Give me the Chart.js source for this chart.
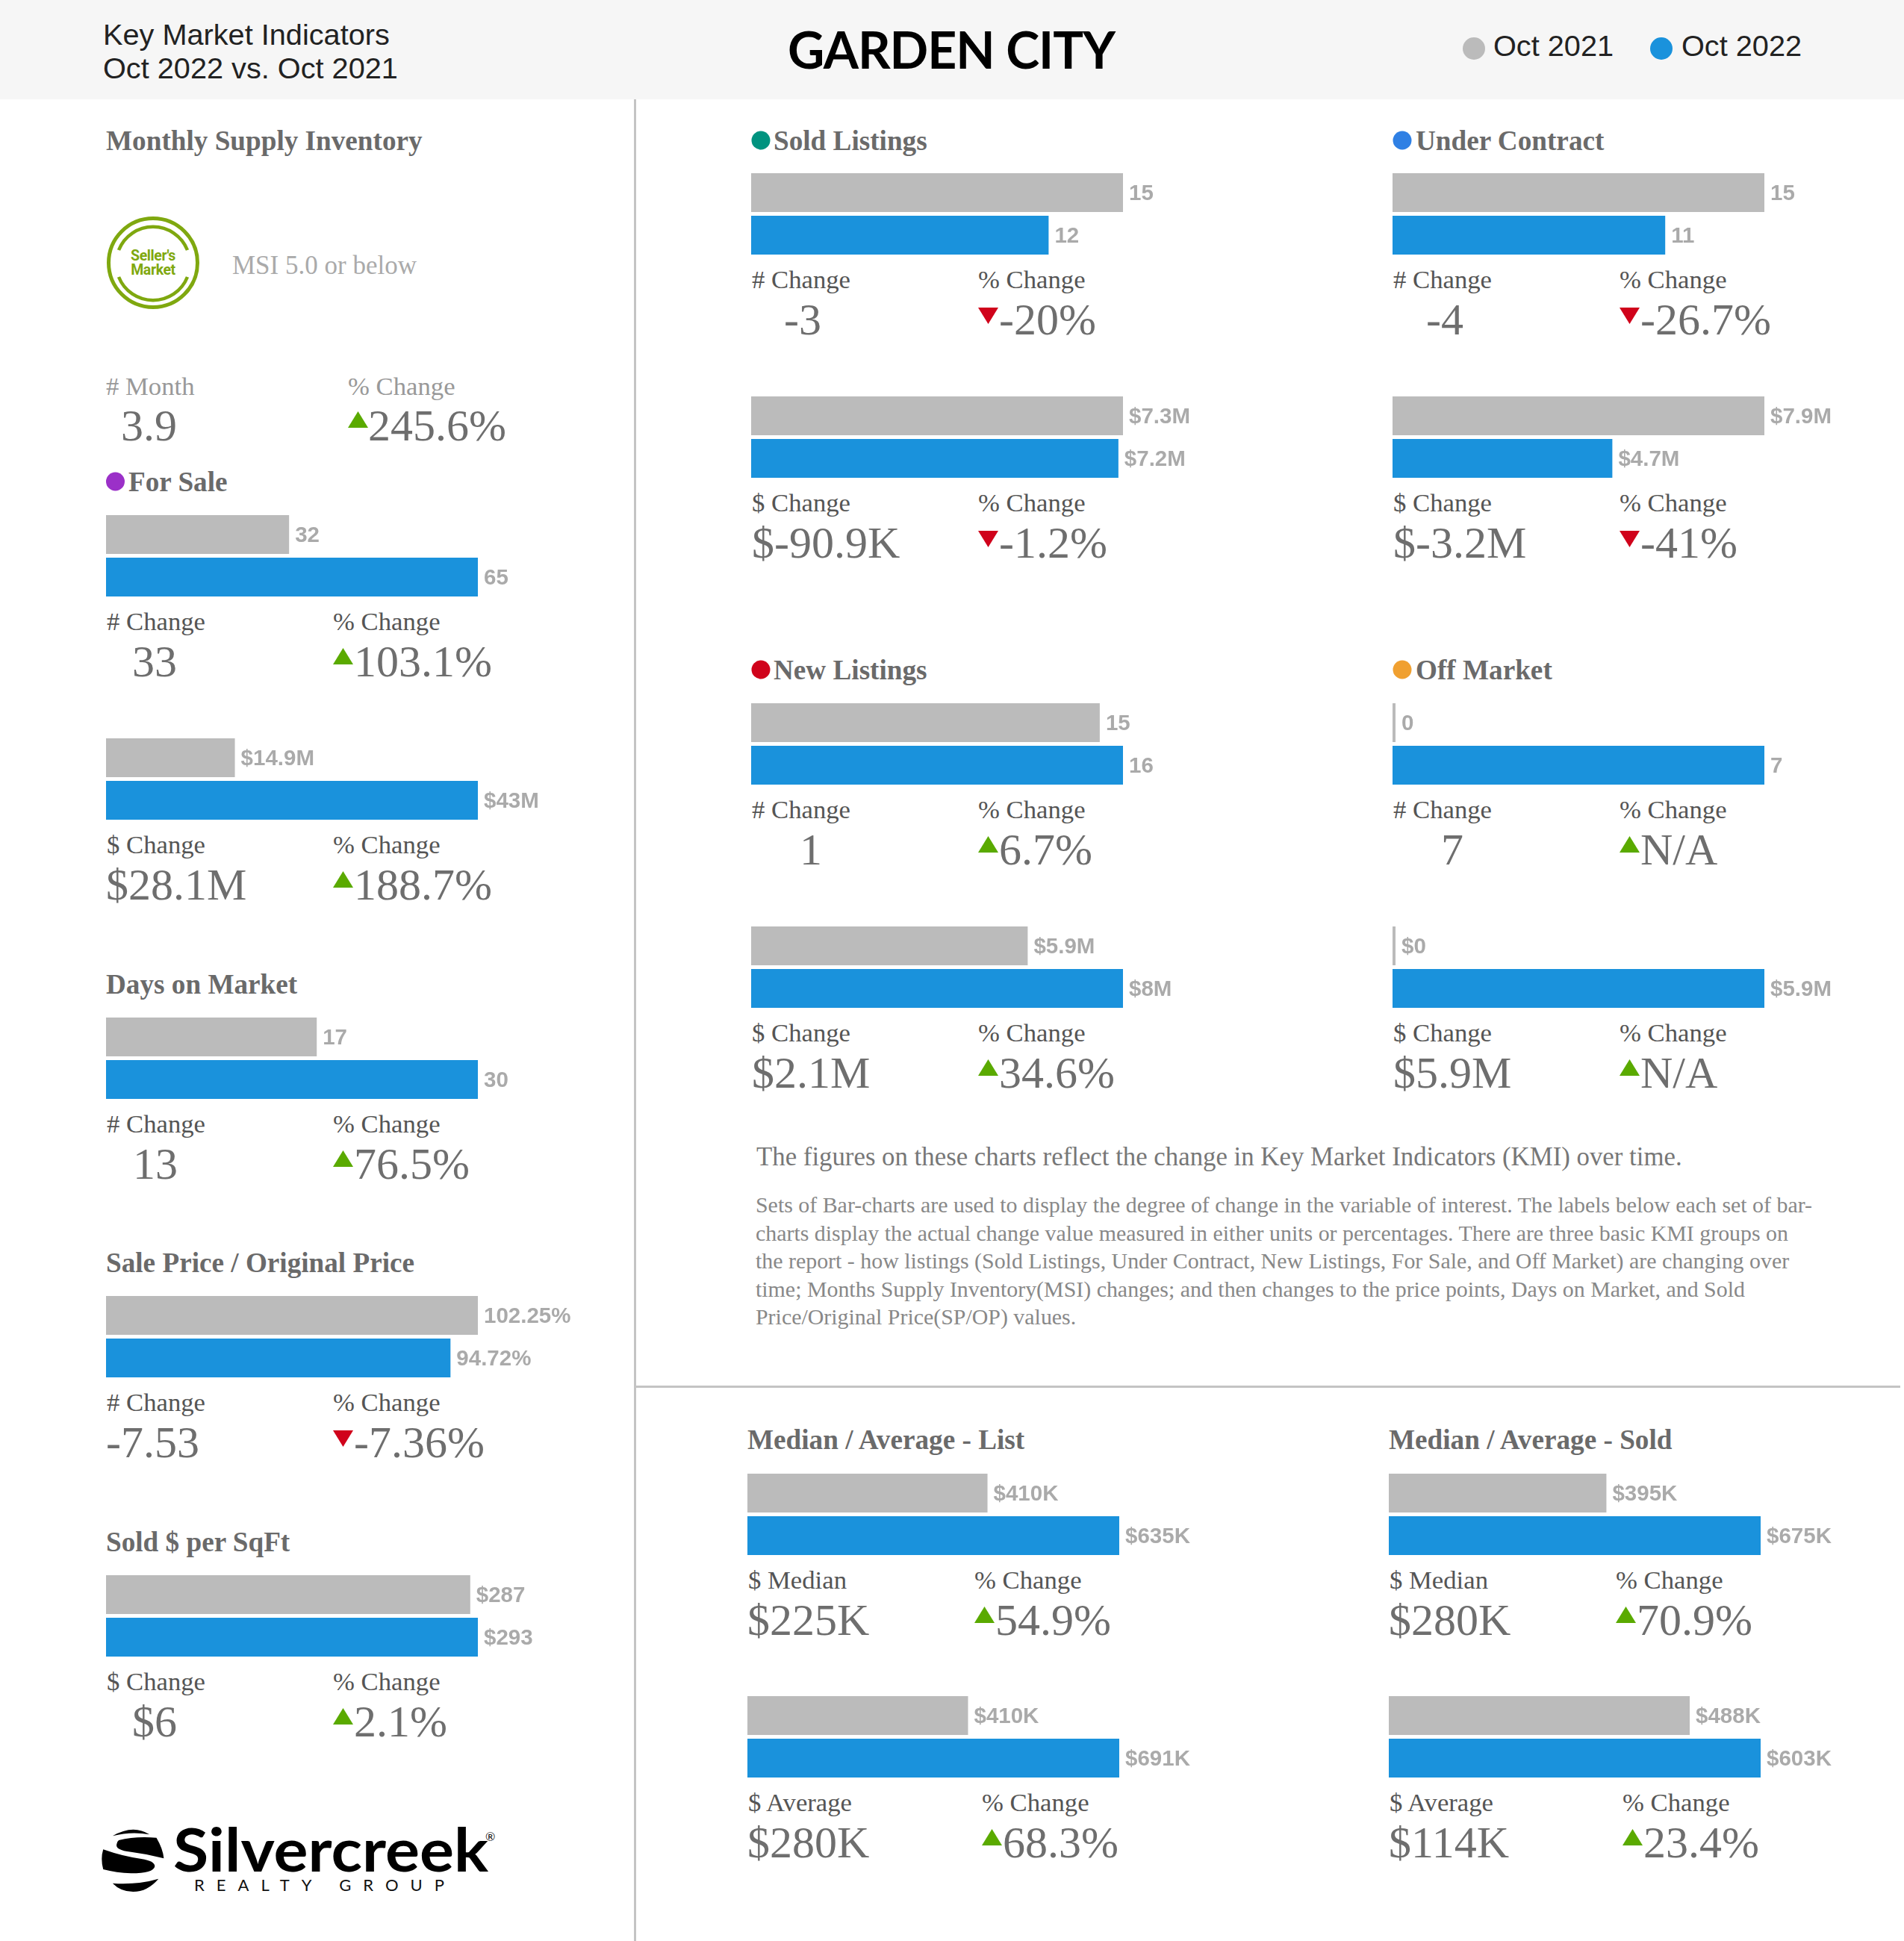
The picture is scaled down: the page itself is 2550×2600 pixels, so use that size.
<!DOCTYPE html>
<html><head><meta charset="utf-8">
<script src="https://cdn.jsdelivr.net/npm/chart.js@4"></script>
<style>
html,body{margin:0;padding:0;background:#fff}
#page{position:relative;width:2550px;height:2600px;overflow:hidden;background:#fff}
#page canvas{position:absolute}
#overlay{position:absolute;left:0;top:0}
.head{font:39.7px "Liberation Sans";fill:#222}
.title{font:700 68px Lato;fill:#000}
.sec{font:bold 37.2px "Liberation Serif";fill:#6a6a6a}
.lab{font:34.7px "Liberation Serif";fill:#555}
.lab2{font:34.7px "Liberation Serif";fill:#999}
.big{font:60px "Liberation Serif";fill:#6e6e6e}
.msi{font:35px "Liberation Serif";fill:#aaa}
.p1{font:34.8px "Liberation Serif";fill:#777}
.p2{font:29.9px "Liberation Serif";fill:#888}
</style></head><body>
<div id="page"><svg id="overlay" width="2550" height="2600" xmlns="http://www.w3.org/2000/svg"></svg></div>
<script>
// ---------- data ----------
const categories = ['Oct 2021', 'Oct 2022'];
const forSaleCount = [32, 65];
const forSaleCountLabels = ['32', '65'];
const forSaleVolume = [14.9, 43];
const forSaleVolumeLabels = ['$14.9M', '$43M'];
const daysOnMarket = [17, 30];
const daysOnMarketLabels = ['17', '30'];
const salePriceRatio = [102.25, 94.72];
const salePriceRatioLabels = ['102.25%', '94.72%'];
const soldPerSqft = [287, 293];
const soldPerSqftLabels = ['$287', '$293'];
const soldCount = [15, 12];
const soldCountLabels = ['15', '12'];
const soldVolume = [7.3, 7.21];
const soldVolumeLabels = ['$7.3M', '$7.2M'];
const contractCount = [15, 11];
const contractCountLabels = ['15', '11'];
const contractVolume = [7.9, 4.67];
const contractVolumeLabels = ['$7.9M', '$4.7M'];
const newCount = [15, 16];
const newCountLabels = ['15', '16'];
const newVolume = [5.95, 8];
const newVolumeLabels = ['$5.9M', '$8M'];
const offCount = [0, 7];
const offCountLabels = ['0', '7'];
const offVolume = [0, 5.9];
const offVolumeLabels = ['$0', '$5.9M'];
const listMedian = [410, 635];
const listMedianLabels = ['$410K', '$635K'];
const listAverage = [410, 691];
const listAverageLabels = ['$410K', '$691K'];
const soldMedian = [395, 675];
const soldMedianLabels = ['$395K', '$675K'];
const soldAverage = [488, 603];
const soldAverageLabels = ['$488K', '$603K'];

// ---------- layout and styling (positions only reference the arrays above) ----------
const GREY = '#bbbbbb', BLUE = '#1a92dc', UP = '#5aaa00', DOWN = '#d0021b';
const BAR_W = 498, STEP = 57, PAD_R = 190;
const panels = [
 // x, y(top of first bar), values, labels, left label, change text, left text x, pct text, dir, pct x
 [142, 690, forSaleCount, forSaleCountLabels, '# Change', '33', 177, '103.1%', 1, 446],
 [142, 989, forSaleVolume, forSaleVolumeLabels, '$ Change', '$28.1M', 142, '188.7%', 1, 446],
 [142, 1363, daysOnMarket, daysOnMarketLabels, '# Change', '13', 178, '76.5%', 1, 446],
 [142, 1736, salePriceRatio, salePriceRatioLabels, '# Change', '-7.53', 142, '-7.36%', -1, 446],
 [142, 2110, soldPerSqft, soldPerSqftLabels, '$ Change', '$6', 177, '2.1%', 1, 446],
 [1006, 232, soldCount, soldCountLabels, '# Change', '-3', 1050, '-20%', -1, 1310],
 [1006, 531, soldVolume, soldVolumeLabels, '$ Change', '$-90.9K', 1007, '-1.2%', -1, 1310],
 [1865, 232, contractCount, contractCountLabels, '# Change', '-4', 1910, '-26.7%', -1, 2169],
 [1865, 531, contractVolume, contractVolumeLabels, '$ Change', '$-3.2M', 1866, '-41%', -1, 2169],
 [1006, 942, newCount, newCountLabels, '# Change', '1', 1071, '6.7%', 1, 1310],
 [1006, 1241, newVolume, newVolumeLabels, '$ Change', '$2.1M', 1007, '34.6%', 1, 1310],
 [1865, 942, offCount, offCountLabels, '# Change', '7', 1930, 'N/A', 1, 2169],
 [1865, 1241, offVolume, offVolumeLabels, '$ Change', '$5.9M', 1866, 'N/A', 1, 2169],
 [1001, 1974, listMedian, listMedianLabels, '$ Median', '$225K', 1001, '54.9%', 1, 1305],
 [1001, 2272, listAverage, listAverageLabels, '$ Average', '$280K', 1001, '68.3%', 1, 1315],
 [1860, 1974, soldMedian, soldMedianLabels, '$ Median', '$280K', 1860, '70.9%', 1, 2164],
 [1860, 2272, soldAverage, soldAverageLabels, '$ Average', '$114K', 1860, '23.4%', 1, 2173],
];
const titles = [
 ['Monthly Supply Inventory', 142, 201, null],
 ['For Sale', 172, 658, '#9b30c8', 154.5],
 ['Days on Market', 142, 1331, null],
 ['Sale Price / Original Price', 142, 1704, null],
 ['Sold $ per SqFt', 142, 2078, null],
 ['Sold Listings', 1036, 201, '#00937f', 1019],
 ['Under Contract', 1896, 201, '#2f80e4', 1878],
 ['New Listings', 1036, 910, '#d0021b', 1019],
 ['Off Market', 1896, 910, '#f0a030', 1878],
 ['Median / Average - List', 1001, 1941, null],
 ['Median / Average - Sold', 1860, 1941, null],
];
const paragraph = [
 'Sets of Bar-charts are used to display the degree of change in the variable of interest. The labels below each set of bar-',
 'charts display the actual change value measured in either units or percentages. There are three basic KMI groups on',
 'the report - how listings (Sold Listings, Under Contract, New Listings, For Sale, and Off Market) are changing over',
 'time; Months Supply Inventory(MSI) changes; and then changes to the price points, Days on Market, and Sold',
 'Price/Original Price(SP/OP) values.'
];

const NS = 'http://www.w3.org/2000/svg';
const svg = document.getElementById('overlay');
const page = document.getElementById('page');
function el(tag, attrs, txt, parent) {
  const e = document.createElementNS(NS, tag);
  for (const k in attrs) e.setAttribute(k, attrs[k]);
  if (txt != null) e.textContent = txt;
  (parent || svg).appendChild(e);
  return e;
}
function text(x, y, s, cls, extra) { return el('text', Object.assign({x, y, class: cls}, extra || {}), s); }
function tri(x, y, dir) {
  const pts = dir > 0 ? `${x},${y+22} ${x+27},${y+22} ${x+13.5},${y}` : `${x},${y} ${x+27},${y} ${x+13.5},${y+22}`;
  el('polygon', {points: pts, fill: dir > 0 ? UP : DOWN});
}

// header
el('rect', {x: 0, y: 0, width: 2550, height: 133, fill: '#f6f6f6'});
text(138, 60, 'Key Market Indicators', 'head');
text(138, 105, 'Oct 2022 vs. Oct 2021', 'head');
text(1055, 92, 'GARDEN CITY', 'title', {textLength: 439, lengthAdjust: 'spacing'});
el('circle', {cx: 1974, cy: 65, r: 15, fill: GREY});
text(2000, 75, categories[0], 'head');
el('circle', {cx: 2225, cy: 65, r: 15, fill: BLUE});
text(2252, 75, categories[1], 'head');
// rules
el('rect', {x: 849, y: 133, width: 3, height: 2467, fill: '#c4c4c4'});
el('rect', {x: 852, y: 1856, width: 1693, height: 3, fill: '#c4c4c4'});

// titles
titles.forEach(t => {
  text(t[1], t[2], t[0], 'sec');
  if (t[3]) el('circle', {cx: t[4], cy: t[2] - 13, r: 12.5, fill: t[3]});
});

// MSI block
const G = '#7fa80f';
el('circle', {cx: 205, cy: 352, r: 59.5, fill: 'none', stroke: G, 'stroke-width': 5});
el('path', {d: 'M159 335 A49.5 49.5 0 0 1 251 335', fill: 'none', stroke: G, 'stroke-width': 4.5});
el('path', {d: 'M159 371 A49.5 49.5 0 0 0 251 371', fill: 'none', stroke: G, 'stroke-width': 4.5});
text(205, 349, "Seller's", '', {'text-anchor': 'middle', style: `font:bold 19.5px Roboto;fill:${G};letter-spacing:-.4px`});
text(205, 368, 'Market', '', {'text-anchor': 'middle', style: `font:bold 19.5px Roboto;fill:${G};letter-spacing:-.4px`});
text(311, 367, 'MSI 5.0 or below', 'msi');
text(142, 529, '# Month', 'lab2');
text(466, 529, '% Change', 'lab2');
text(162, 590, '3.9', 'big');
tri(466, 551, 1);
text(493, 590, '245.6%', 'big');

// explanatory text
text(1013, 1561, 'The figures on these charts reflect the change in Key Market Indicators (KMI) over time.', 'p1');
paragraph.forEach((l, i) => text(1012, [1624, 1662, 1699, 1737, 1774][i], l, 'p2'));

// logo
const lg = el('g', {transform: 'translate(0 2350) scale(0.5485 0.3333)', fill: '#000'});
['M275 328 Q325 280 365 322 Q320 308 275 328Z',
 'M290 345 Q330 328 382 335 Q398 380 400 418 Q360 400 320 392 Q280 385 285 360 Q286 350 290 345Z',
 'M252 382 Q300 410 345 420 Q378 428 378 450 Q375 478 320 478 Q285 476 252 462 Q245 420 252 382Z',
 'M275 518 Q335 525 387 500 Q360 552 325 552 Q295 552 275 518Z'].forEach(d => el('path', {d}, null, lg));
text(232, 2507, 'Silvercreek', '', {textLength: 422, lengthAdjust: 'spacingAndGlyphs', style: 'font:700 80px Lato;fill:#000'});
text(260, 2533, 'REALTY GROUP', '', {textLength: 335, style: 'font:400 22px Lato;fill:#111'});
text(650, 2466, '®', '', {style: 'font:16px Lato;fill:#111'});

// bar value labels, drawn from the bars the library laid out
const valueLabels = {
  id: 'valueLabels',
  afterDatasetsDraw(chart, args, opts) {
    const ctx = chart.ctx;
    const meta = chart.getDatasetMeta(0);
    ctx.save();
    ctx.font = 'bold 29.5px "Liberation Sans"';
    ctx.fillStyle = '#aaaaaa';
    ctx.textBaseline = 'middle';
    meta.data.forEach((bar, i) => ctx.fillText(opts.labels[i], bar.x + 8, bar.y + 2));
    ctx.restore();
  }
};

panels.forEach(p => {
  const [x, y, values, labels, lab, val, valX, pct, dir, pctX] = p;
  const c = document.createElement('canvas');
  c.width = BAR_W + PAD_R; c.height = STEP * 2 + 1;
  c.style.left = x + 'px'; c.style.top = (y - 3) + 'px';
  c.style.width = c.width + 'px'; c.style.height = c.height + 'px';
  page.appendChild(c);
  new Chart(c, {
    type: 'bar',
    data: {labels: categories, datasets: [{
      data: values, backgroundColor: [GREY, BLUE], borderWidth: 0,
      barPercentage: 1, categoryPercentage: 52 / STEP, minBarLength: 4
    }]},
    options: {
      indexAxis: 'y', responsive: false, animation: false, devicePixelRatio: 1,
      layout: {padding: {right: PAD_R, left: 0, top: 0.5, bottom: 0.5}},
      scales: {
        x: {display: false, min: 0, max: Math.max(...values)},
        y: {display: false}
      },
      plugins: {legend: {display: false}, title: {display: false}, tooltip: {enabled: false}, valueLabels: {labels}}
    },
    plugins: [valueLabels]
  });
  text(x + 1, y + 153.5, lab, 'lab');
  text(pctX, y + 153.5, '% Change', 'lab');
  text(valX, y + 216, val, 'big');
  tri(pctX, dir > 0 ? y + 178 : y + 180, dir);
  text(pctX + 28, y + 216, pct, 'big');
});
</script>
</body></html>
